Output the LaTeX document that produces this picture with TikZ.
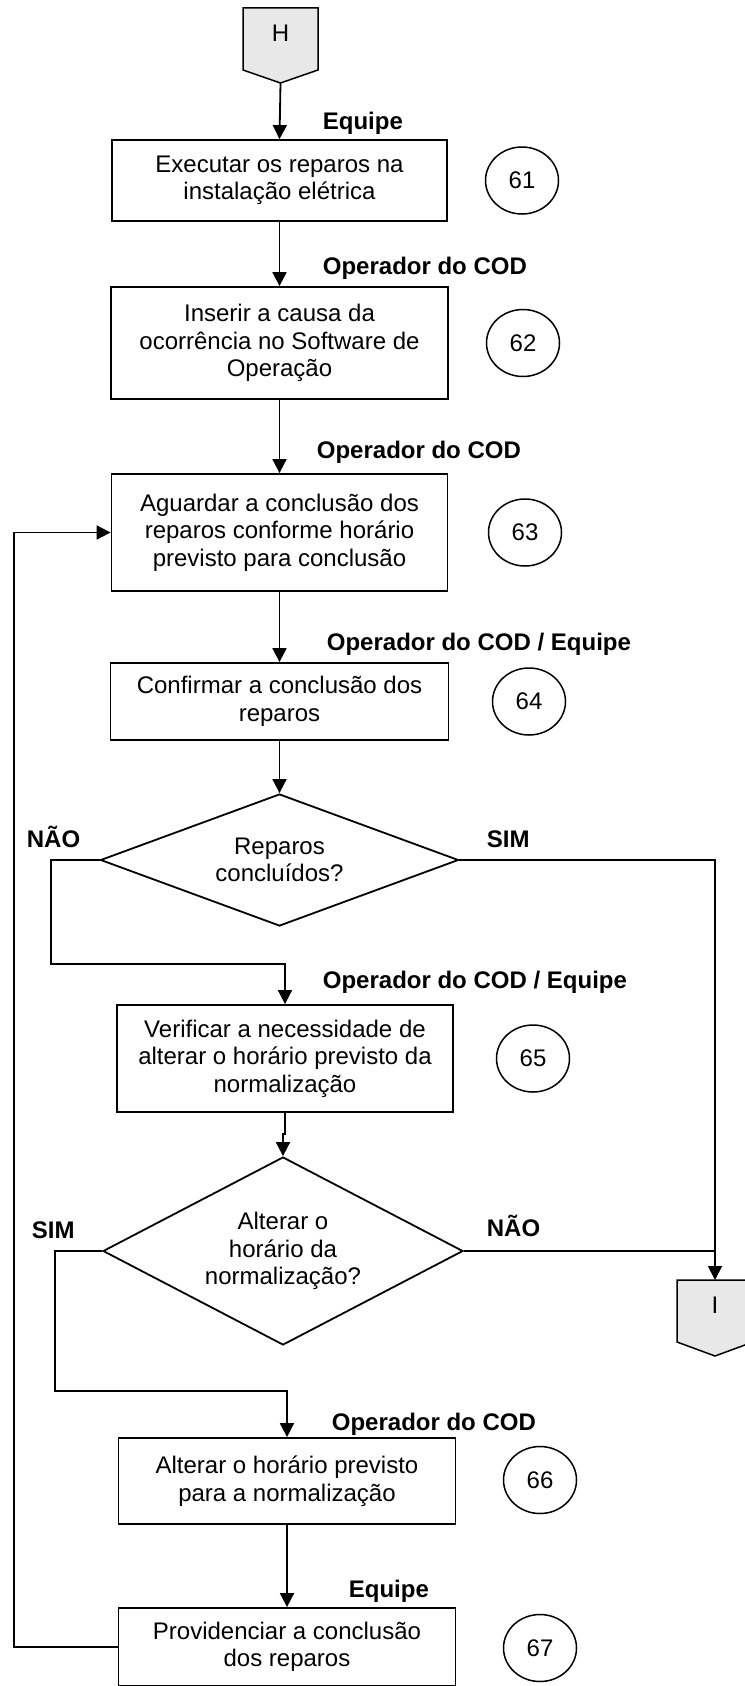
\documentclass[tikz,border=0pt]{standalone}
\usepackage{fontspec}
\setmainfont{Liberation Sans}
\usetikzlibrary{arrows.meta,shapes.geometric}
\definecolor{connfill}{RGB}{232,232,232}
\begin{document}
\begin{tikzpicture}[x=1pt,y=-1pt,
  line width=1.8pt,
  txt/.style={font=\fontsize{24}{27.5}\selectfont},
  arr/.style={-{Triangle[length=14pt,width=14pt]}},
  stepbox/.style={draw, rectangle, inner sep=0pt, align=center, txt},
  decision/.style={draw, diamond, inner sep=0pt, align=center, txt},
  numcirc/.style={draw, ellipse, minimum width=73pt, minimum height=67pt, inner sep=0pt, line width=1.5pt, txt},
  role/.style={anchor=base west, inner sep=0pt, font=\bfseries\fontsize{24}{27.5}\selectfont},
  conn/.style={draw, fill=connfill, line width=1.5pt, line join=miter}]
\useasboundingbox (0,0) rectangle (744,1686);

% off-page connector H
\path[conn] (243,8) -- (318,8) -- (318,70) -- (280.5,83) -- (243,70) -- cycle;
\node[txt, inner sep=0pt] (H) at (280.5,33) {H};
\coordinate (Htip) at (280.5,83);

% off-page connector I
\path[conn] (677,1280) -- (753,1280) -- (753,1342) -- (715,1356) -- (677,1342) -- cycle;
\node[txt, inner sep=0pt] (I) at (715,1305) {I};
\coordinate (Itop) at (715,1280);

% process boxes
\node[stepbox, minimum width=335pt, minimum height=81pt] (b61) at (279.5,180.5)
  {Executar os reparos na\\instalação elétrica};
\node[stepbox, minimum width=337pt, minimum height=112pt] (b62) at (279.5,343)
  {Inserir a causa da\\ocorrência no Software de\\Operação};
\node[stepbox, minimum width=336pt, minimum height=117pt] (b63) at (279.5,532.5)
  {Aguardar a conclusão dos\\reparos conforme horário\\previsto para conclusão};
\node[stepbox, minimum width=338pt, minimum height=77pt] (b64) at (279.5,701.5)
  {Confirmar a conclusão dos\\reparos};
\node[stepbox, minimum width=336pt, minimum height=107pt] (b65) at (285,1058.5)
  {Verificar a necessidade de\\alterar o horário previsto da\\normalização};
\node[stepbox, minimum width=337pt, minimum height=86pt] (b66) at (287,1481)
  {Alterar o horário previsto\\para a normalização};
\node[stepbox, minimum width=337pt, minimum height=78pt] (b67) at (287,1647)
  {Providenciar a conclusão\\dos reparos};

% decisions
\node[decision, shape aspect=2.7, minimum width=358pt, minimum height=132pt] (d1) at (279.5,860)
  {Reparos\\concluídos?};
\node[decision, shape aspect=1.9, minimum width=360pt, minimum height=188pt] (d2) at (283,1251)
  {Alterar o\\horário da\\normalização?};

% step numbers
\node[numcirc] (n61) at (522,180.5) {61};
\node[numcirc] (n62) at (523,343) {62};
\node[numcirc] (n63) at (525,532.5) {63};
\node[numcirc] (n64) at (529,701.5) {64};
\node[numcirc] (n65) at (533,1058.5) {65};
\node[numcirc] (n66) at (540,1480) {66};
\node[numcirc] (n67) at (540,1648) {67};

% roles
\node[role] (r61) at (322,129) {Equipe};
\node[role] (r62) at (322,274) {Operador do COD};
\node[role] (r63) at (316,458) {Operador do COD};
\node[role] (r64) at (326,650) {Operador do COD / Equipe};
\node[role] (r65) at (322,988) {Operador do COD / Equipe};
\node[role] (r66) at (331,1430) {Operador do COD};
\node[role] (r67) at (348,1597) {Equipe};

% branch labels
\node[role] (l1n) at (26,847) {NÃO};
\node[role] (l1s) at (486,847) {SIM};
\node[role] (l2s) at (31,1238) {SIM};
\node[role] (l2n) at (486,1236) {NÃO};

% connectors
\draw[arr] (Htip) -- (b61.north);
\draw[arr] (b61.south) -- (b62.north);
\draw[arr] (b62.south) -- (b63.north);
\draw[arr] (b63.south) -- (b64.north);
\draw[arr] (b64.south) -- (d1.north);
\draw[arr] (d1.west) -- (51,860) -- (51,964) -- (285,964) -- (b65.north);
\draw[arr] (d1.east) -- (715,860) -- (Itop);
\draw[arr] (b65.south) -- (285,1134) -- (283,1134) -- (d2.north);
\draw (d2.east) -- (715,1251);
\draw[arr] (d2.west) -- (55,1251) -- (55,1391) -- (287,1391) -- (b66.north);
\draw[arr] (b66.south) -- (b67.north);
\draw[arr] (b67.west) -- (14,1647) -- (14,532.5) -- (b63.west);
\end{tikzpicture}
\end{document}
